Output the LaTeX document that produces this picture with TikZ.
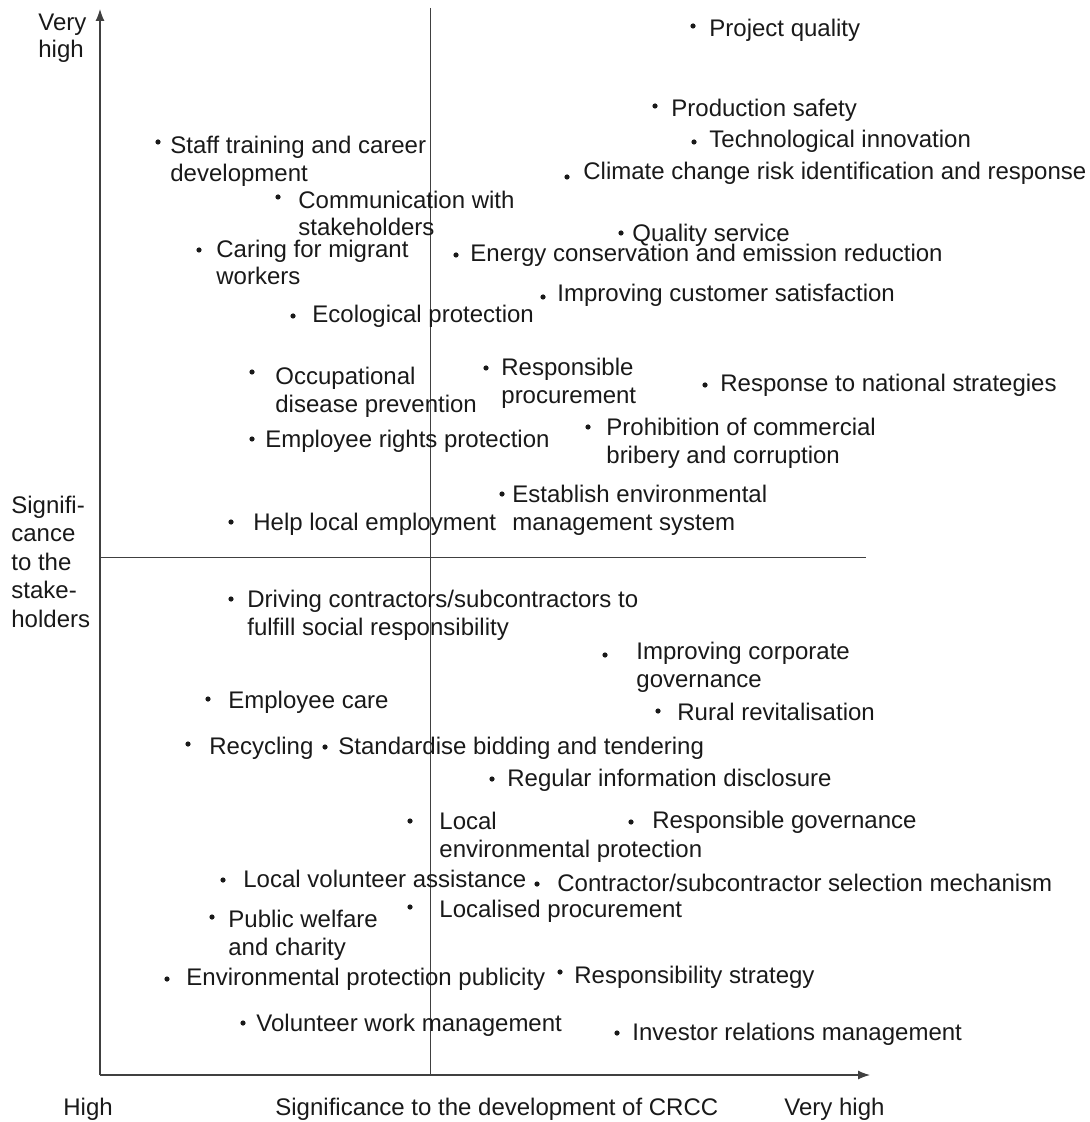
\documentclass[tikz,border=0pt]{standalone}
\usepackage{fontspec}
\setmainfont{Liberation Sans}
\usetikzlibrary{arrows.meta}

\tikzset{
  topic/.style={anchor=base west, inner sep=0pt, align=left, text=black!90,
    font=\fontsize{12}{13.75}\selectfont},
  dot/.style={circle, fill=black!90, inner sep=0pt, minimum size=2.6pt},
  axis/.style={draw=black!75, line width=0.6pt},
  divider/.style={draw=black!75, line width=0.5pt}
}

\begin{document}
\begin{tikzpicture}[x=0.5pt, y=-0.5pt, >={Latex[length=6pt,width=4.5pt]}]
\useasboundingbox (0,0) rectangle (1089,1122);

\coordinate (origin) at (100,1075);
\coordinate (y-top) at (100,9);
\coordinate (x-end) at (870,1075);
\coordinate (v-top) at (430,8);
\coordinate (v-bottom) at (430,1075);
\coordinate (h-left) at (100,557);
\coordinate (h-right) at (866,557);

\draw [axis, ->] (origin) -- (y-top);
\draw [axis, ->] (origin) -- (x-end);
\draw [divider] (v-top) -- (v-bottom);
\draw [divider] (h-left) -- (h-right);

% dot x/y, text x / baseline of the last line
\foreach \bx/\by/\tx/\ty/\txt [count=\i] in {
  693/26/709/37/{Project quality},
  655/106/671/117/{Production safety},
  694/142/709/148/{Technological innovation},
  158/142/170/181.5/{Staff training and career\\development},
  567/177/583/180/{Climate change risk identification and response},
  278/197/298/236/{Communication with\\stakeholders},
  621/233/632/242/{Quality service},
  199/250/216/285/{Caring for migrant\\workers},
  456/255/470/262/{Energy conservation and emission reduction},
  543/297/557/302/{Improving customer satisfaction},
  293/316/312/323/{Ecological protection},
  486/368/501/403/{Responsible\\procurement},
  252/372/275/412/{Occupational\\disease prevention},
  705/385/720/392/{Response to national strategies},
  588/427/606/463/{Prohibition of commercial\\bribery and corruption},
  252/439/265/447/{Employee rights protection},
  502/494/512/530/{Establish environmental\\management system},
  231/522/253/530/{Help local employment},
  231/599/247/635/{Driving contractors{/}subcontractors to\\fulfill social responsibility},
  605/655/636/687/{Improving corporate\\governance},
  208/699/228/708/{Employee care},
  658/711/677/720/{Rural revitalisation},
  188/744/209/754/{Recycling},
  325/747/338/754/{Standardise bidding and tendering},
  492/779/507/786/{Regular information disclosure},
  410/821/439/857/{Local\\environmental protection},
  631/822/652/828/{Responsible governance},
  223/880/243/887/{Local volunteer assistance},
  537/884/557/891/{Contractor{/}subcontractor selection mechanism},
  410/907/439/917/{Localised procurement},
  212/917/228/955/{Public welfare\\and charity},
  167/979/186/985/{Environmental protection publicity},
  560/972/574/983/{Responsibility strategy},
  243/1023/256/1031/{Volunteer work management},
  617/1033/632/1040/{Investor relations management}}
{
  \node [dot] (dot-\i) at (\bx,\by) {};
  \node [topic] (topic-\i) at (\tx,\ty) {\txt};
}

\node [topic] (y-very-high) at (38,58) {Very\\high};
\node [topic, font=\fontsize{12}{14.25}\selectfont] (y-title) at (11,627)
  {Signifi-\\cance\\to the\\stake-\\holders};
\node [topic] (x-high) at (63,1115) {High};
\node [topic] (x-title) at (275,1115) {Significance to the development of CRCC};
\node [topic] (x-very-high) at (784,1115) {Very high};
\end{tikzpicture}
\end{document}
